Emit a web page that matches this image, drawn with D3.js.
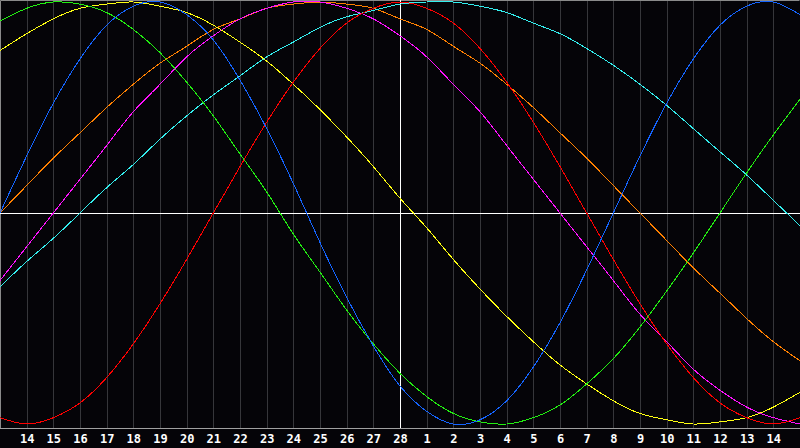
<!DOCTYPE html>
<html>
<head>
<meta charset="utf-8">
<script src="https://cdn.jsdelivr.net/npm/d3@7"></script>
<style>
  html, body { margin: 0; padding: 0; background: #050408; }
  svg { display: block; }
</style>
</head>
<body>
<div id="container"></div>
<script>
// day labels along the bottom, one per grid line (index 1..29)
const dayLabels = [14, 15, 16, 17, 18, 19, 20, 21, 22, 23, 24, 25, 26, 27, 28, 1, 2, 3, 4, 5, 6, 7, 8, 9, 10, 11, 12, 13, 14];
const todayIndex = 15;

// cycle values, one per day index 0..30
const physical = [0, 0.27, 0.52, 0.73, 0.89, 0.98, 1.0, 0.94, 0.82, 0.63, 0.4, 0.14, -0.14, -0.4, -0.63, -0.82, -0.94, -1.0, -0.98, -0.89, -0.73, -0.52, -0.27, 0, 0.27, 0.52, 0.73, 0.89, 0.98, 1.0, 0.94];
const emotional = [-0.97, -1.0, -0.97, -0.9, -0.78, -0.62, -0.43, -0.22, 0, 0.22, 0.43, 0.62, 0.78, 0.9, 0.97, 1.0, 0.97, 0.9, 0.78, 0.62, 0.43, 0.22, 0, -0.22, -0.43, -0.62, -0.78, -0.9, -0.97, -1.0, -0.97];
const intellectual = [0.91, 0.97, 1.0, 0.99, 0.95, 0.87, 0.76, 0.62, 0.46, 0.28, 0.1, -0.1, -0.28, -0.46, -0.62, -0.76, -0.87, -0.95, -0.99, -1.0, -0.97, -0.91, -0.81, -0.69, -0.54, -0.37, -0.19, 0, 0.19, 0.37, 0.54];
const aesthetic = [0.77, 0.85, 0.92, 0.97, 0.99, 1.0, 0.98, 0.95, 0.89, 0.81, 0.72, 0.61, 0.49, 0.36, 0.22, 0.07, -0.07, -0.22, -0.36, -0.49, -0.61, -0.72, -0.81, -0.89, -0.95, -0.98, -1.0, -0.99, -0.97, -0.92, -0.85];
const awareness = [0, 0.13, 0.26, 0.38, 0.5, 0.61, 0.71, 0.79, 0.87, 0.92, 0.97, 0.99, 1.0, 0.99, 0.97, 0.92, 0.87, 0.79, 0.71, 0.61, 0.5, 0.38, 0.26, 0.13, 0, -0.13, -0.26, -0.38, -0.5, -0.61, -0.7];
const intuitive = [-0.32, -0.16, 0, 0.16, 0.32, 0.48, 0.61, 0.74, 0.84, 0.92, 0.97, 1.0, 1.0, 0.97, 0.92, 0.84, 0.74, 0.61, 0.48, 0.32, 0.16, 0, -0.16, -0.32, -0.48, -0.61, -0.74, -0.84, -0.92, -0.97, -1.0];
const spiritual = [-0.35, -0.23, -0.12, 0, 0.12, 0.23, 0.35, 0.46, 0.56, 0.65, 0.74, 0.81, 0.88, 0.93, 0.96, 0.99, 1.0, 1.0, 0.98, 0.95, 0.9, 0.85, 0.78, 0.7, 0.61, 0.51, 0.4, 0.29, 0.18, 0.06, -0.06];

const seriesNames = ["awareness", "spiritual", "intuitive", "aesthetic", "intellectual", "emotional", "physical"];
const seriesValues = [awareness, spiritual, intuitive, aesthetic, intellectual, emotional, physical];
const seriesColors = ["#ff8000", "#33eeee", "#ff11ff", "#ffff11", "#22ee11", "#ff0000", "#1464ff"];

const width = 800;
const height = 448;
const plot = { left: 0, right: 800, top: 0, bottom: 428 };

const svg = d3.select("#container")
              .append("svg")
              .attr("width", width)
              .attr("height", height);

svg.append("rect")
   .attr("width", width)
   .attr("height", height)
   .attr("fill", "#050408");

const xScale = d3.scaleLinear()
                 .domain([0, 30])
                 .range([plot.left, plot.right]);
const yScale = d3.scaleLinear()
                 .domain([-1, 1])
                 .range([424, 2]);

const dayIdx = dayLabels.map((d, i) => i + 1);

// vertical grid
svg.append("g")
   .selectAll("line")
   .data(dayIdx)
   .enter()
   .append("line")
   .attr("x1", (d) => Math.round(xScale(d)) + 0.5)
   .attr("x2", (d) => Math.round(xScale(d)) + 0.5)
   .attr("y1", plot.top)
   .attr("y2", plot.bottom)
   .attr("stroke", "#36363a")
   .attr("stroke-width", 1);

// frame
svg.append("path")
   .attr("d", "M0.5," + (plot.bottom + 0.5) + "V0.5H799.5")
   .attr("fill", "none")
   .attr("stroke", "#8a8a8a");
svg.append("line")
   .attr("x1", 0).attr("x2", width)
   .attr("y1", plot.bottom + 0.5).attr("y2", plot.bottom + 0.5)
   .attr("stroke", "#a0a0a0");

// zero line and today line
svg.append("line")
   .attr("x1", 0).attr("x2", width)
   .attr("y1", Math.round(yScale(0)) + 0.5).attr("y2", Math.round(yScale(0)) + 0.5)
   .attr("stroke", "#ffffff");
svg.append("line")
   .attr("x1", Math.round(xScale(todayIndex)) + 0.5).attr("x2", Math.round(xScale(todayIndex)) + 0.5)
   .attr("y1", plot.top).attr("y2", plot.bottom)
   .attr("stroke", "#ffffff");

const line = d3.line()
               .x((d, i) => xScale(i))
               .y((d) => yScale(d))
               .curve(d3.curveNatural);

svg.append("g")
   .selectAll("path")
   .data(seriesValues)
   .enter()
   .append("path")
   .attr("class", (d, i) => "cycle " + seriesNames[i])
   .attr("d", (d) => line(d))
   .attr("fill", "none")
   .attr("stroke", (d, i) => seriesColors[i])
   .attr("stroke-width", 1)
   .attr("shape-rendering", "crispEdges");

// day axis
const xAxis = d3.axisBottom(xScale)
                .tickValues(dayIdx)
                .tickFormat((d) => dayLabels[d - 1])
                .tickSize(0)
                .tickPadding(0);
const axisG = svg.append("g")
                 .attr("transform", "translate(0, " + (plot.bottom + 6) + ")")
                 .call(xAxis);
axisG.select(".domain").remove();
axisG.selectAll("text")
     .attr("fill", "#ffffff")
     .attr("dy", "0.71em")
     .style("font-family", "'DejaVu Sans Mono', monospace")
     .style("font-weight", "bold")
     .style("font-size", "12px");
</script>
</body>
</html>
